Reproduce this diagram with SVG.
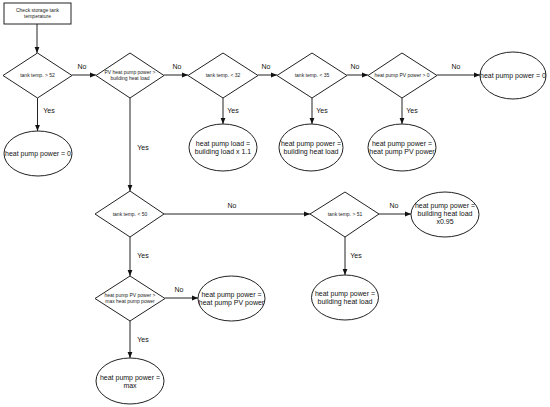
<svg xmlns="http://www.w3.org/2000/svg" width="550" height="407" viewBox="0 0 550 407">
<defs>
<marker id="ah" viewBox="0 0 10 10" refX="10" refY="5" markerWidth="6" markerHeight="6" orient="auto" markerUnits="userSpaceOnUse">
<path d="M0,1 L10,5 L0,9 Z" fill="#111"/>
</marker>
</defs>
<style>
.shape{fill:#fff;stroke:#222;stroke-width:1}
.edge{fill:none;stroke:#222;stroke-width:1;marker-end:url(#ah)}
.dt{font-family:"Liberation Sans",Arial,sans-serif;font-size:5px;fill:#222;text-anchor:middle}
.et{font-family:"Liberation Sans",Arial,sans-serif;font-size:7px;fill:#111;text-anchor:middle}
.lbl{font-family:"Liberation Sans",Arial,sans-serif;font-size:7px;fill:#111;text-anchor:middle}
</style>
<rect width="550" height="407" fill="#fff"/>
<g id="connectors">
<path class="edge" d="M37,24 V53"/>
<path class="edge" d="M72,75 H96"/>
<path class="edge" d="M164,75 H188"/>
<path class="edge" d="M258,75 H277"/>
<path class="edge" d="M347,75 H368"/>
<path class="edge" d="M437,75 H480"/>
<path class="edge" d="M37.5,98 V131"/>
<path class="edge" d="M223,98 V124"/>
<path class="edge" d="M312,98 V124"/>
<path class="edge" d="M402,98 V124"/>
<path class="edge" d="M130,98 V191"/>
<path class="edge" d="M164,214 H310"/>
<path class="edge" d="M379,214 H411"/>
<path class="edge" d="M345,237 V275"/>
<path class="edge" d="M130,237 V276"/>
<path class="edge" d="M165,298 H198"/>
<path class="edge" d="M130,321 V358"/>
<text class="lbl" x="82" y="69">No</text>
<text class="lbl" x="177" y="69">No</text>
<text class="lbl" x="266" y="69">No</text>
<text class="lbl" x="355" y="69">No</text>
<text class="lbl" x="456" y="69">No</text>
<text class="lbl" x="49" y="113">Yes</text>
<text class="lbl" x="233" y="113">Yes</text>
<text class="lbl" x="322" y="113">Yes</text>
<text class="lbl" x="412" y="113">Yes</text>
<text class="lbl" x="143" y="150">Yes</text>
<text class="lbl" x="232" y="208">No</text>
<text class="lbl" x="394" y="208">No</text>
<text class="lbl" x="143" y="258">Yes</text>
<text class="lbl" x="356" y="258">Yes</text>
<text class="lbl" x="179" y="292">No</text>
<text class="lbl" x="143" y="342">Yes</text>
</g>
<g id="start">
<rect class="shape" x="4" y="3" width="67" height="21"/>
<text class="dt" x="37.5" y="12">Check storage tank</text>
<text class="dt" x="37.5" y="18">temperature</text>
</g>
<g id="d1">
<polygon class="shape" points="37.5,53 72,75.5 37.5,98 3,75.5"/>
<text class="dt" x="37.5" y="77">tank temp. &gt; 52</text>
</g>
<g id="d2">
<polygon class="shape" points="130,53 164,75.5 130,98 96,75.5"/>
<text class="dt" x="130" y="74">PV heat pump power &gt;</text>
<text class="dt" x="130" y="80">building heat load</text>
</g>
<g id="d3">
<polygon class="shape" points="223,53 258,75.5 223,98 188,75.5"/>
<text class="dt" x="223" y="77">tank temp. &lt; 32</text>
</g>
<g id="d4">
<polygon class="shape" points="312,53 347,75.5 312,98 277,75.5"/>
<text class="dt" x="312" y="77">tank temp. &lt; 35</text>
</g>
<g id="d5">
<polygon class="shape" points="402,53 437,75.5 402,98 368,75.5"/>
<text class="dt" x="402" y="77">heat pump PV power &gt; 0</text>
</g>
<g id="e0">
<ellipse class="shape" cx="513" cy="75.5" rx="33" ry="23.5"/>
<text class="et" x="513" y="78">heat pump power = 0</text>
</g>
<g id="e1">
<ellipse class="shape" cx="38" cy="153.5" rx="34" ry="22.5"/>
<text class="et" x="38" y="156">heat pump power = 0</text>
</g>
<g id="e3">
<ellipse class="shape" cx="223" cy="147.5" rx="34" ry="23.5"/>
<text class="et" x="223" y="146">heat pump load =</text>
<text class="et" x="223" y="154">building load x 1.1</text>
</g>
<g id="e4">
<ellipse class="shape" cx="311" cy="147.5" rx="32" ry="23.5"/>
<text class="et" x="311" y="146">heat pump power =</text>
<text class="et" x="311" y="154">building heat load</text>
</g>
<g id="e5">
<ellipse class="shape" cx="402" cy="147.5" rx="34" ry="23.5"/>
<text class="et" x="402" y="146">heat pump power =</text>
<text class="et" x="402" y="154">heat pump PV power</text>
</g>
<g id="d6">
<polygon class="shape" points="130,191 164,214 130,237 95,214"/>
<text class="dt" x="130" y="216">tank temp. &lt; 50</text>
</g>
<g id="d7">
<polygon class="shape" points="345,192 379,214 345,237 310,214"/>
<text class="dt" x="345" y="216">tank temp. &gt; 51</text>
</g>
<g id="e7">
<ellipse class="shape" cx="445" cy="214.5" rx="34" ry="22.5"/>
<text class="et" x="445" y="208">heat pump power =</text>
<text class="et" x="445" y="216">building heat load</text>
<text class="et" x="445" y="224">x0.95</text>
</g>
<g id="e8">
<ellipse class="shape" cx="345" cy="297.5" rx="33.5" ry="22.5"/>
<text class="et" x="345" y="296">heat pump power =</text>
<text class="et" x="345" y="304">building heat load</text>
</g>
<g id="d8">
<polygon class="shape" points="130,276 165,298.5 130,321 95,298.5"/>
<text class="dt" x="130" y="297">heat pump PV power &gt;</text>
<text class="dt" x="130" y="303">max heat pump power</text>
</g>
<g id="e9">
<ellipse class="shape" cx="231.5" cy="298.5" rx="33.5" ry="22.5"/>
<text class="et" x="231.5" y="297">heat pump power =</text>
<text class="et" x="231.5" y="305">heat pump PV power</text>
</g>
<g id="e10">
<ellipse class="shape" cx="130" cy="381" rx="34" ry="23"/>
<text class="et" x="130" y="380">heat pump power =</text>
<text class="et" x="130" y="388">max</text>
</g>
</svg>
